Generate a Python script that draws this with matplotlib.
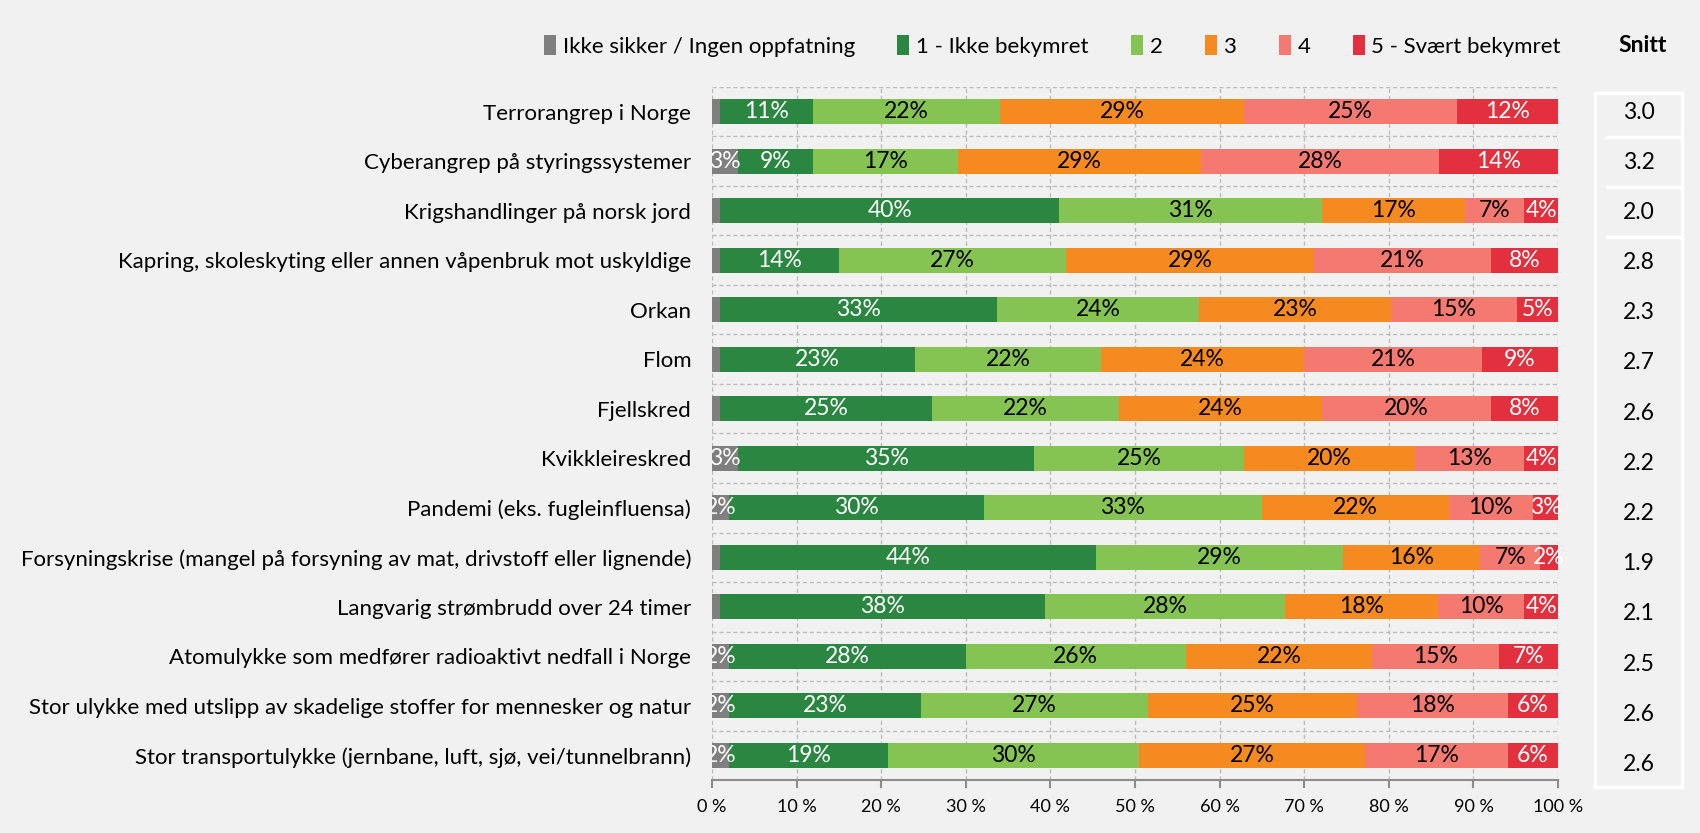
#!/usr/bin/python

import numpy as np
import matplotlib.pyplot as plt

plt.rcParams['font.family'] = ['Lato', 'DejaVu Sans']

# risk categories, top to bottom
categories = [
    "Terrorangrep i Norge",
    "Cyberangrep på styringssystemer",
    "Krigshandlinger på norsk jord",
    "Kapring, skoleskyting eller annen våpenbruk mot uskyldige",
    "Orkan",
    "Flom",
    "Fjellskred",
    "Kvikkleireskred",
    "Pandemi (eks. fugleinfluensa)",
    "Forsyningskrise (mangel på forsyning av mat, drivstoff eller lignende)",
    "Langvarig strømbrudd over 24 timer",
    "Atomulykke som medfører radioaktivt nedfall i Norge",
    "Stor ulykke med utslipp av skadelige stoffer for mennesker og natur",
    "Stor transportulykke (jernbane, luft, sjø, vei/tunnelbrann)",
]

seriesNames = ["Ikke sikker / Ingen oppfatning", "1 - Ikke bekymret", "2", "3", "4",
               "5 - Svært bekymret"]

# shares in percent
ikkeSikker = [1.0, 3.1, 1.0, 1.0, 1.0, 1.0, 1.0, 3.1, 2.0, 1.0, 1.0, 2.0, 2.0, 2.0]
score1 = [10.9, 8.8, 40.0, 14.0, 32.7, 23.0, 25.0, 35.0, 30.1, 44.4, 38.4, 28.0, 22.7, 18.8]
score2 = [22.1, 17.2, 31.1, 26.9, 23.9, 22.0, 22.1, 24.8, 32.9, 29.2, 28.3, 26.0, 26.8, 29.7]
score3 = [28.9, 28.7, 16.9, 29.3, 22.7, 24.0, 24.0, 20.2, 22.1, 16.2, 18.1, 22.0, 24.7, 26.7]
score4 = [25.2, 28.1, 7.0, 20.9, 14.8, 21.0, 20.0, 12.9, 9.9, 7.1, 10.2, 15.0, 17.9, 16.9]
score5 = [11.9, 14.1, 4.0, 7.9, 4.9, 9.0, 7.9, 4.0, 3.0, 2.1, 4.0, 7.0, 5.9, 5.9]

snitt = ["3.0", "3.2", "2.0", "2.8", "2.3", "2.7", "2.6", "2.2", "2.2", "1.9", "2.1", "2.5",
         "2.6", "2.6"]

xticks = [0, 10, 20, 30, 40, 50, 60, 70, 80, 90, 100]

colors = ['#7f7f7f', '#2a8640', '#85c452', '#f58a20', '#f47a71', '#e2303e']
textColors = ['white', 'white', 'black', 'black', 'black', 'white']
bgColor = '#f1f1f1'


def plotBars(ax):
    series = [ikkeSikker, score1, score2, score3, score4, score5]
    ypos = np.arange(len(categories))
    left = np.zeros(len(categories))
    handles = []
    for idx in range(len(series)):
        vals = np.asarray(series[idx])
        bars = ax.barh(ypos, vals, left=left, height=0.5, color=colors[idx],
                       label=seriesNames[idx], zorder=3)
        handles.append(bars)
        # data labels in the middle of each segment
        for j in range(len(vals)):
            if idx == 0 and vals[j] < 1.5:
                continue
            ax.text(left[j] + vals[j] / 2, ypos[j], "%d%%" % round(vals[j]),
                    ha='center', va='center', fontsize=16.5, color=textColors[idx],
                    zorder=4, clip_on=(idx == 0))
        left = left + vals
    return handles


def main():
    fig = plt.figure(figsize=(17, 8.33), dpi=100, facecolor=bgColor)
    ax = fig.add_axes([0.4188, 0.0636, 0.4977, 0.832])
    ax.set_facecolor(bgColor)

    handles = plotBars(ax)

    ax.set_xlim(0, 100)
    ax.set_ylim(len(categories) - 0.5, -0.5)
    ax.set_yticks(np.arange(len(categories)))
    ax.set_yticklabels(categories, fontsize=16)
    ax.tick_params(axis='y', length=0, pad=15)
    ax.set_xticks(xticks)
    ax.set_xticklabels(["%d %%" % t for t in xticks], fontsize=13)
    ax.tick_params(axis='x', length=6, color='#8c8c8c', width=1.5, pad=8)

    # dashed grid: verticals at each 10 %, horizontals between categories
    ax.set_yticks(np.arange(len(categories) + 1) - 0.5, minor=True)
    ax.tick_params(axis='y', which='minor', length=0)
    ax.grid(axis='x', which='major', color='#bdbdbd', linestyle=(0, (3, 2)),
            linewidth=1, zorder=0)
    ax.grid(axis='y', which='minor', color='#bdbdbd', linestyle=(0, (3, 2)),
            linewidth=1, zorder=0)
    for side in ['top', 'left', 'right']:
        ax.spines[side].set_visible(False)
    ax.spines['bottom'].set_color('#8c8c8c')
    ax.spines['bottom'].set_linewidth(1.5)

    fig.legend(handles=handles, labels=seriesNames, loc='center',
               bbox_to_anchor=(0.619, 1 - 46 / 833), ncol=6, frameon=False,
               fontsize=16, handlelength=0.55, handleheight=1.0,
               handletextpad=0.3, columnspacing=1.9)

    # Snitt column in its own white framed box
    sx = fig.add_axes([0.9382, 0.0552, 0.0512, 0.8331])
    sx.set_facecolor(bgColor)
    sx.set_xlim(0, 1)
    sx.set_ylim(13.45, -0.378)
    sx.set_xticks([])
    sx.set_yticks([])
    for side in sx.spines:
        sx.spines[side].set_color('white')
        sx.spines[side].set_linewidth(2.5)
    for idx in range(len(snitt)):
        sx.text(0.5, idx, snitt[idx], ha='center', va='center', fontsize=16.5)
    for idx in range(3):
        sx.plot([0.14, 0.98], [idx + 0.5, idx + 0.5], color='white', linewidth=2.5)

    fig.text(1643 / 1700, 1 - 46 / 833, "Snitt", ha='center', va='center',
             fontsize=16.5, fontweight='bold')

    fig.savefig("out.png", dpi=100, facecolor=bgColor)


if __name__ == "__main__":
    main()
